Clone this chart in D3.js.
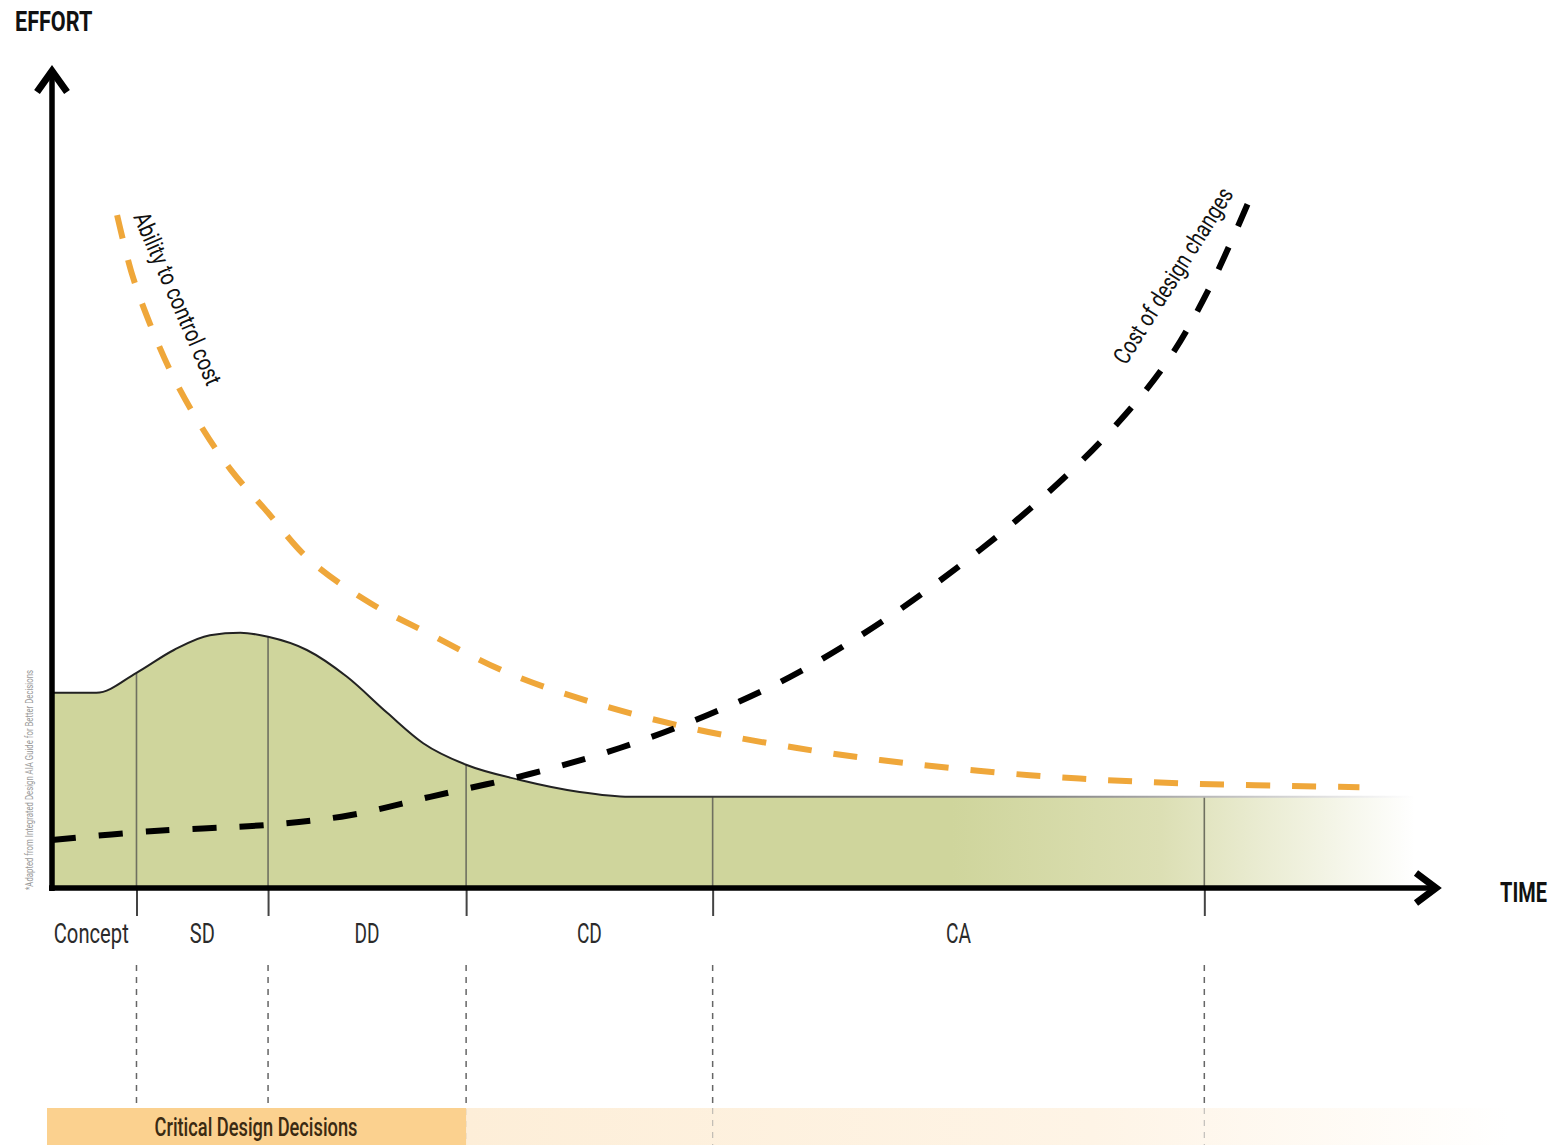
<!DOCTYPE html>
<html>
<head>
<meta charset="utf-8">
<script src="https://cdn.jsdelivr.net/npm/d3@7"></script>
<style>
  html, body { margin: 0; padding: 0; background: #fff; }
  svg { display: block; }
  text { font-family: Roboto, "Noto Sans", sans-serif; }
</style>
</head>
<body>
<svg id="chart" width="1554" height="1145"></svg>
<script>
// Project phases and their boundaries along the time axis (0–100)
const phases = ["Concept", "SD", "DD", "CD", "CA"];
const phaseEdges = [0, 6.1, 15.6, 29.9, 47.7, 83.2];
const decisionEnd = 29.9;          // critical design decisions end with DD

// Design effort (filled area)
const effortT = [0, 3.2, 6.1, 8.8, 11.4, 13.6, 15.6, 18.4, 21.3, 24.2, 26.8, 29.9, 33.8, 38.1, 41.7, 98.4];
const effortV = [24.4, 24.4, 26.9, 29.75, 31.6, 31.9, 31.4, 29.75, 26.4, 21.9, 18.1, 15.4, 13.5, 12.0, 11.4, 11.4];

// Ability to control cost (orange dashed)
const abilityT = [4.7, 5.8, 7.1, 8.7, 10.7, 12.9, 15.4, 18.6, 23.0, 27.1, 32.9, 39.2, 45.8, 52.4, 59.8, 70.6, 81.4, 94.4];
const abilityV = [84.1, 76.6, 70.4, 64.1, 57.9, 52.3, 47.3, 41.0, 35.6, 31.9, 26.9, 23.1, 20.1, 17.9, 16.0, 14.1, 13.1, 12.6];

// Cost of design changes (black dashed)
const costT = [0, 7.1, 15.6, 21.5, 27.3, 34.5, 41.0, 47.3, 53.3, 60.1, 67.0, 71.9, 76.5, 80.5, 83.6, 86.6];
const costV = [6.0, 7.1, 7.9, 9.1, 11.4, 14.25, 17.5, 21.6, 26.4, 33.5, 42.25, 49.4, 57.25, 65.75, 75.1, 86.6];

const axisLabels = { y: "EFFORT", x: "TIME" };
const curveLabels = { ability: "Ability to control cost", cost: "Cost of design changes" };
const bandLabel = "Critical Design Decisions";
const sourceNote = "*Adapted from Integrated Design AIA Guide for Better Decisions";

const svg = d3.select("#chart");
const x = d3.scaleLinear().domain([0, 100]).range([52, 1437]);
const y = d3.scaleLinear().domain([0, 100]).range([888, 88]);

const defs = svg.append("defs");

const fillGrad = defs.append("linearGradient")
  .attr("id", "effortFill").attr("gradientUnits", "userSpaceOnUse")
  .attr("x1", x(65)).attr("x2", x(98.4)).attr("y1", 0).attr("y2", 0);
fillGrad.append("stop").attr("offset", 0).attr("stop-color", "#cfd59c");
fillGrad.append("stop").attr("offset", 0.45).attr("stop-color", "#dcdfb4");
fillGrad.append("stop").attr("offset", 1).attr("stop-color", "#ffffff");

const lineGrad = defs.append("linearGradient")
  .attr("id", "effortLine").attr("gradientUnits", "userSpaceOnUse")
  .attr("x1", x(40)).attr("x2", x(98.4)).attr("y1", 0).attr("y2", 0);
lineGrad.append("stop").attr("offset", 0).attr("stop-color", "#222");
lineGrad.append("stop").attr("offset", 0.5).attr("stop-color", "#777");
lineGrad.append("stop").attr("offset", 1).attr("stop-color", "#fff");

const bandGrad = defs.append("linearGradient")
  .attr("id", "bandFill").attr("gradientUnits", "userSpaceOnUse")
  .attr("x1", x(decisionEnd)).attr("x2", 1510).attr("y1", 0).attr("y2", 0);
bandGrad.append("stop").attr("offset", 0).attr("stop-color", "#fdeed8");
bandGrad.append("stop").attr("offset", 0.6).attr("stop-color", "#fef4e6");
bandGrad.append("stop").attr("offset", 1).attr("stop-color", "#ffffff");

const effort = effortT.map((t, i) => [t, effortV[i]]);
const ability = abilityT.map((t, i) => [t, abilityV[i]]);
const cost = costT.map((t, i) => [t, costV[i]]);

const effortArea = d3.area().x(d => x(d[0])).y0(y(0)).y1(d => y(d[1])).curve(d3.curveMonotoneX);
const effortTop = d3.line().x(d => x(d[0])).y(d => y(d[1])).curve(d3.curveMonotoneX);
const smooth = d3.line().x(d => x(d[0])).y(d => y(d[1])).curve(d3.curveCatmullRom.alpha(0.5));

defs.append("clipPath").attr("id", "effortClip")
  .append("path").attr("d", effortArea(effort));

// Effort area
svg.append("path").attr("d", effortArea(effort)).attr("fill", "url(#effortFill)");

// Phase dividers inside the area
svg.append("g").attr("clip-path", "url(#effortClip)")
  .selectAll("line").data(phaseEdges.slice(1)).join("line")
  .attr("x1", d => x(d)).attr("x2", d => x(d))
  .attr("y1", y(100)).attr("y2", y(0))
  .attr("stroke", "#6f7060").attr("stroke-width", 1.6);

svg.append("path").attr("d", effortTop(effort))
  .attr("fill", "none").attr("stroke", "url(#effortLine)").attr("stroke-width", 2);

// Bottom axis ticks at phase boundaries
const xAxis = d3.axisBottom(x).tickValues(phaseEdges.slice(1)).tickSize(28).tickFormat("");
const axG = svg.append("g").attr("transform", `translate(0,${y(0)})`).call(xAxis);
axG.select(".domain").remove();
axG.selectAll(".tick line").attr("stroke", "#444").attr("stroke-width", 2);

// Dashed guides below the phase labels
svg.append("g").selectAll("line").data(phaseEdges.slice(1)).join("line")
  .attr("x1", d => x(d)).attr("x2", d => x(d))
  .attr("y1", 965).attr("y2", 1145)
  .attr("stroke", "#666").attr("stroke-width", 1.5).attr("stroke-dasharray", "6,6");

// Phase labels
svg.append("g").selectAll("text").data(phases).join("text")
  .attr("x", (d, i) => (x(phaseEdges[i]) + x(phaseEdges[i + 1])) / 2 - (i === 0 ? 3 : 0))
  .attr("y", 943)
  .attr("text-anchor", "middle")
  .attr("font-size", 27).attr("font-weight", 400).attr("fill", "#2b2b2b")
  .attr("textLength", d => d.length > 2 ? 75 : 25).attr("lengthAdjust", "spacingAndGlyphs")
  .text(d => d);

// Critical design decisions band
svg.append("rect").attr("x", x(decisionEnd)).attr("y", 1108)
  .attr("width", 1510 - x(decisionEnd)).attr("height", 37).attr("fill", "url(#bandFill)");
svg.append("rect").attr("x", 47).attr("y", 1108)
  .attr("width", x(decisionEnd) - 47).attr("height", 37).attr("fill", "#fbd18f");
svg.append("g").selectAll("line").data(phaseEdges.filter(d => d > decisionEnd)).join("line")
  .attr("x1", d => x(d)).attr("x2", d => x(d))
  .attr("y1", 1108).attr("y2", 1145)
  .attr("stroke", "#999").attr("stroke-width", 1.2).attr("stroke-dasharray", "6,6")
  .attr("opacity", 0.6);
svg.append("text").attr("x", 256).attr("y", 1136).attr("text-anchor", "middle")
  .attr("font-size", 25).attr("font-weight", 500).attr("fill", "#3a2a12")
  .attr("textLength", 203).attr("lengthAdjust", "spacingAndGlyphs")
  .text(bandLabel);

// Axes with arrowheads
const axisStyle = s => s.attr("fill", "none").attr("stroke", "#000").attr("stroke-width", 5.5);
svg.append("line").attr("x1", x(0)).attr("x2", x(0)).attr("y1", y(0) + 3).attr("y2", 72).call(axisStyle);
svg.append("path").attr("d", `M${x(0) - 15},92 L${x(0)},71 L${x(0) + 15},92`)
  .call(axisStyle).attr("stroke-width", 7).attr("stroke-linejoin", "miter");
svg.append("line").attr("x1", x(0) - 3).attr("x2", 1434).attr("y1", y(0)).attr("y2", y(0)).call(axisStyle);
svg.append("path").attr("d", `M1416,${y(0) - 15} L1436,${y(0)} L1416,${y(0) + 15}`)
  .call(axisStyle).attr("stroke-width", 7).attr("stroke-linejoin", "miter");

// Axis titles, condensed horizontally
svg.append("g").attr("transform", "translate(15,31) scale(0.8,1)")
  .append("text")
  .attr("font-size", 27).attr("font-weight", 700).attr("fill", "#111")
  .text(axisLabels.y);
svg.append("g").attr("transform", "translate(1547,902) scale(0.74,1)")
  .append("text").attr("text-anchor", "end")
  .attr("font-size", 27).attr("font-weight", 700).attr("fill", "#111")
  .text(axisLabels.x);

// Curves
svg.append("path").attr("d", smooth(ability))
  .attr("fill", "none").attr("stroke", "#efa73a").attr("stroke-width", 6)
  .attr("stroke-dasharray", "24,22");
svg.append("path").attr("d", smooth(cost))
  .attr("fill", "none").attr("stroke", "#000").attr("stroke-width", 6)
  .attr("stroke-dasharray", "24,23");

// Curve labels
svg.append("g").attr("transform", "translate(170,302) rotate(66.5)")
  .append("text").attr("text-anchor", "middle")
  .attr("font-size", 24).attr("fill", "#111")
  .attr("textLength", 186).attr("lengthAdjust", "spacingAndGlyphs")
  .text(curveLabels.ability);
svg.append("g").attr("transform", "translate(1180,280) rotate(-57.8)")
  .append("text").attr("text-anchor", "middle")
  .attr("font-size", 24).attr("fill", "#111")
  .attr("textLength", 203).attr("lengthAdjust", "spacingAndGlyphs")
  .text(curveLabels.cost);

// Source note along the vertical axis
svg.append("g").attr("transform", "translate(33,780) rotate(-90)")
  .append("text").attr("text-anchor", "middle")
  .attr("font-size", 10).attr("fill", "#9a9a9a")
  .attr("textLength", 220).attr("lengthAdjust", "spacingAndGlyphs")
  .text(sourceNote);
</script>
</body>
</html>
